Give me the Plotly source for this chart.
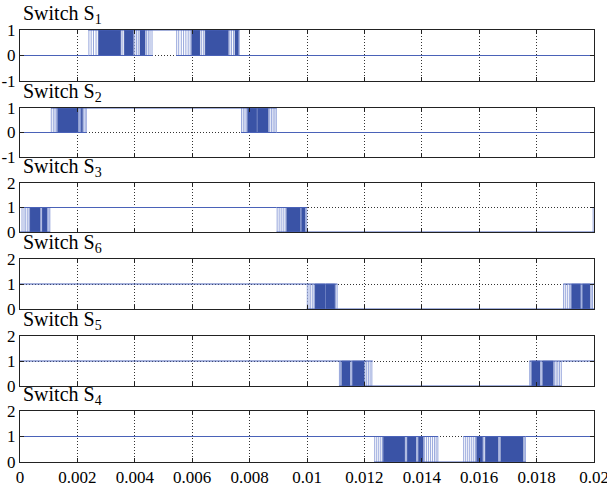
import plotly.graph_objects as go

# ---------------- data ----------------
X_TICKS = [0, 0.002, 0.004, 0.006, 0.008, 0.01, 0.012, 0.014, 0.016, 0.018, 0.02]
X_TICK_LABELS = ["0", "0.002", "0.004", "0.006", "0.008", "0.01",
                 "0.012", "0.014", "0.016", "0.018", "0.02"]

PANEL_TITLES = ["Switch S<sub>1</sub>", "Switch S<sub>2</sub>", "Switch S<sub>3</sub>",
                "Switch S<sub>6</sub>", "Switch S<sub>5</sub>", "Switch S<sub>4</sub>"]
Y_TICKS_A = [-1, 0, 1]
Y_TICKS_B = [0, 1, 2]

# state segments: breakpoints and state ("0" off, "1" on, "P" PWM switching)
S1_t = [0, 0.00238, 0.00462, 0.00544, 0.00764, 0.02]
S1_s = ["0", "P", "1", "P", "0"]
S1_block_start = [0.00273, 0.00363, 0.00418, 0.00598, 0.00645, 0.00749]
S1_block_end = [0.00351, 0.00395, 0.00436, 0.00627, 0.00726, 0.00761]
S1_pulses = [0.00240, 0.00248, 0.00256, 0.00265, 0.00356, 0.00400, 0.00406, 0.00412,
             0.00441, 0.00447, 0.00453, 0.00460, 0.00546, 0.00553, 0.00562, 0.00570,
             0.00578, 0.00586, 0.00593, 0.00633, 0.00640, 0.00731, 0.00737, 0.00744,
             0.00764]

S2_t = [0, 0.00108, 0.00232, 0.00770, 0.00894, 0.02]
S2_s = ["0", "P", "1", "P", "0"]
S2_block_start = [0.00131, 0.00213, 0.00793, 0.00828]
S2_block_end = [0.00203, 0.00218, 0.00825, 0.00865]
S2_pulses = [0.00109, 0.00116, 0.00122, 0.00127, 0.00207, 0.00211, 0.00222, 0.00227,
             0.00231, 0.00772, 0.00778, 0.00784, 0.00790, 0.00826, 0.00870, 0.00876,
             0.00882, 0.00888, 0.00893]

S3_t = [0, 0.00105, 0.00894, 0.01000, 0.01990, 0.02]
S3_s = ["P", "1", "P", "0", "P"]
S3_block_start = [0.00035, 0.00077, 0.00929, 0.00981]
S3_block_end = [0.00070, 0.00094, 0.00976, 0.00993]
S3_pulses = [0.00007, 0.00014, 0.00020, 0.00027, 0.00032, 0.00073, 0.00097, 0.00101,
             0.00104, 0.00896, 0.00903, 0.00910, 0.00917, 0.00924, 0.00978, 0.00996,
             0.00999, 0.01997]

S6_t = [0, 0.00999, 0.01106, 0.01893, 0.02]
S6_s = ["1", "P", "0", "P"]
S6_block_start = [0.01028, 0.01066, 0.01922, 0.01960]
S6_block_end = [0.01063, 0.01097, 0.01953, 0.01986]
S6_pulses = [0.01001, 0.01007, 0.01013, 0.01020, 0.01025, 0.01064, 0.01100, 0.01105,
             0.01894, 0.01900, 0.01907, 0.01914, 0.01919, 0.01956, 0.01990, 0.01995]

S5_t = [0, 0.01112, 0.01229, 0.01775, 0.01887, 0.02]
S5_s = ["1", "P", "0", "P", "1"]
S5_block_start = [0.01121, 0.01158, 0.01783, 0.01821]
S5_block_end = [0.01150, 0.01199, 0.01812, 0.01858]
S5_pulses = [0.01113, 0.01117, 0.01154, 0.01202, 0.01208, 0.01214, 0.01220, 0.01226,
             0.01776, 0.01780, 0.01816, 0.01862, 0.01868, 0.01874, 0.01880, 0.01886]

S4_t = [0, 0.01234, 0.01457, 0.01545, 0.01762, 0.02]
S4_s = ["1", "P", "0", "P", "1"]
S4_block_start = [0.01266, 0.01349, 0.01388, 0.01591, 0.01621, 0.01675]
S4_block_end = [0.01341, 0.01380, 0.01405, 0.01612, 0.01666, 0.01753]
S4_pulses = [0.01236, 0.01243, 0.01250, 0.01257, 0.01263, 0.01345, 0.01384, 0.01409,
             0.01416, 0.01423, 0.01430, 0.01437, 0.01444, 0.01450, 0.01456, 0.01546,
             0.01553, 0.01560, 0.01567, 0.01574, 0.01581, 0.01587, 0.01616, 0.01670,
             0.01757, 0.01761]

SWITCHES = [
    (S1_t, S1_s, S1_block_start, S1_block_end, S1_pulses, Y_TICKS_A),
    (S2_t, S2_s, S2_block_start, S2_block_end, S2_pulses, Y_TICKS_A),
    (S3_t, S3_s, S3_block_start, S3_block_end, S3_pulses, Y_TICKS_B),
    (S6_t, S6_s, S6_block_start, S6_block_end, S6_pulses, Y_TICKS_B),
    (S5_t, S5_s, S5_block_start, S5_block_end, S5_pulses, Y_TICKS_B),
    (S4_t, S4_s, S4_block_start, S4_block_end, S4_pulses, Y_TICKS_B),
]

# ---------------- layout constants ----------------
W, H = 607, 488
PLOT_L, PLOT_R = 20, 594
PANELS_PX = [(30, 81), (108, 157), (183, 232), (259, 309), (336, 386), (411, 462)]

LINE_C = "#4a62b8"
BLOCK_C = "#3a53a6"
PULSE_C = "#96a6dc"
FONT = "Times New Roman, Liberation Serif, DejaVu Serif, serif"

fig = go.Figure()

for i, (ts, ss, bs, be, pulses, yt) in enumerate(SWITCHES):
    n = i + 1
    xa = "x" if n == 1 else f"x{n}"
    ya = "y" if n == 1 else f"y{n}"

    # thin single pulses
    px, py = [], []
    for p in pulses:
        px += [p, p, None]
        py += [0, 1, None]
    fig.add_trace(go.Scatter(x=px, y=py, mode="lines", xaxis=xa, yaxis=ya,
                             line=dict(color=PULSE_C, width=1), cliponaxis=False,
                             hoverinfo="skip", showlegend=False))
    # dense switching blocks
    bx, by = [], []
    for a, b in zip(bs, be):
        bx += [a, b, b, a, a, None]
        by += [0, 0, 1, 1, 0, None]
    fig.add_trace(go.Scatter(x=bx, y=by, mode="lines", fill="toself", xaxis=xa, yaxis=ya,
                             fillcolor=BLOCK_C, line=dict(color=BLOCK_C, width=0.5),
                             cliponaxis=False, hoverinfo="skip", showlegend=False))
    # steady levels
    lx, ly = [], []
    for k, s in enumerate(ss):
        a, b = ts[k], ts[k + 1]
        if s in ("0", "P"):
            lx += [a, b, None]
            ly += [0, 0, None]
        if s in ("1", "P"):
            lx += [a, b, None]
            ly += [1, 1, None]
    fig.add_trace(go.Scatter(x=lx, y=ly, mode="lines", xaxis=xa, yaxis=ya,
                             line=dict(color=LINE_C, width=1), cliponaxis=False,
                             hoverinfo="skip", showlegend=False))

    top, bot = PANELS_PX[i]
    dom_y = [1 - bot / H, 1 - top / H]
    axis_common = dict(showline=True, mirror="ticks", linecolor="#222", linewidth=1,
                       ticks="inside", ticklen=4, tickcolor="#222", automargin=False,
                       showgrid=True, gridcolor="#333", griddash="1px,2px", gridwidth=1,
                       zeroline=False, ticklabeloverflow="allow",
                       tickfont=dict(family=FONT, size=17, color="black"))
    fig.layout[("xaxis" if n == 1 else f"xaxis{n}")] = dict(
        axis_common, domain=[PLOT_L / W, PLOT_R / W], range=[0, 0.02],
        anchor=ya, tickvals=X_TICKS, ticktext=X_TICK_LABELS,
        showticklabels=(n == 6), ticklabelstandoff=0)
    fig.layout[("yaxis" if n == 1 else f"yaxis{n}")] = dict(
        axis_common, domain=dom_y, range=[yt[0], yt[-1]], anchor=xa,
        tickvals=yt, ticktext=[str(v) for v in yt], ticklabelstandoff=0)

    fig.add_annotation(text=PANEL_TITLES[i], xref="paper", yref="paper",
                       x=(PLOT_L + 1) / W, y=1 - (top - 1) / H,
                       xanchor="left", yanchor="bottom", showarrow=False,
                       font=dict(family=FONT, size=20, color="black"))

fig.update_layout(width=W, height=H, margin=dict(l=0, r=0, t=0, b=0),
                  paper_bgcolor="white", plot_bgcolor="white")

# the page's default body margin would shift the figure; remove it
fig.write_html("out.html", config={"displayModeBar": False},
               post_script="document.body.style.margin='0';"
                           "document.body.style.overflow='hidden';")
